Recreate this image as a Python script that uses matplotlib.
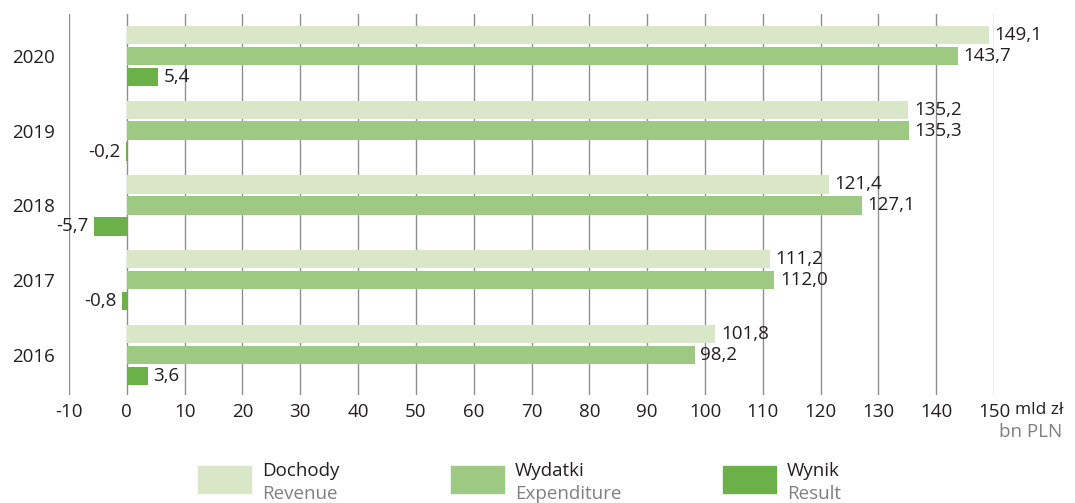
import matplotlib
matplotlib.use("Agg")
import matplotlib.pyplot as plt
import matplotlib.patches as mpatches
import numpy as np

years = ["2016", "2017", "2018", "2019", "2020"]
revenue = [101.8, 111.2, 121.4, 135.2, 149.1]
expenditure = [98.2, 112.0, 127.1, 135.3, 143.7]
result = [3.6, -0.8, -5.7, -0.2, 5.4]
xticks = list(range(-10, 151, 10))

series_names = [("Dochody", "Revenue"), ("Wydatki", "Expenditure"), ("Wynik", "Result")]
colours = ["#d9e7c8", "#9dc983", "#6cb04a"]
dark = "#231f20"
grey = "#808080"

plt.rcParams["font.family"] = ["Open Sans", "DejaVu Sans"]
fs = 13.5

fig = plt.figure(figsize=(10.75, 5.03), dpi=100)
W, H = 1075, 503
ax = fig.add_axes([69 / W, 1 - 395 / H, (994 - 69) / W, (395 - 14) / H])

y = np.arange(len(years))
step = 0.28
height = 0.245
series = [revenue, expenditure, result]
offsets = [step, 0, -step]

for vals, off, col in zip(series, offsets, colours):
    ax.barh(y + off, vals, height=height, color=col, zorder=3)
    for yi, v in zip(y, vals):
        lab = f"{v:.1f}".replace(".", ",")
        if v >= 0:
            ax.annotate(lab, (v, yi + off), xytext=(4, 0), textcoords="offset points",
                        ha="left", va="center", fontsize=fs, color=dark, clip_on=False)
        else:
            ax.annotate(lab, (v, yi + off), xytext=(-4, 0), textcoords="offset points",
                        ha="right", va="center", fontsize=fs, color=dark, clip_on=False)

ax.set_xlim(-10, 150)
ax.set_ylim(-0.535, 4.56)
ax.set_xticks(xticks)
ax.set_xticklabels([str(t) for t in xticks], fontsize=fs, color=dark)
ax.set_yticks(y)
ax.set_yticklabels(years, fontsize=fs, color=dark)
ax.tick_params(axis="both", length=0)
ax.tick_params(axis="x", pad=6)
ax.tick_params(axis="y", pad=10)
ax.grid(axis="x", color="#8f8f8f", linewidth=1.0, zorder=0)
for s in ax.spines.values():
    s.set_visible(False)

# unit label
fig.text(1015 / W, 1 - 410 / H, "mld zł", fontsize=12.5, color=dark, ha="left", va="center")
fig.text(1062 / W, 1 - 432 / H, "bn PLN", fontsize=fs, color=grey, ha="right", va="center")

# legend
for (pl, en), col, x0 in zip(series_names, colours, [198, 451, 723]):
    fig.patches.append(mpatches.Rectangle((x0 / W, 1 - 493 / H), 53 / W, 27 / H,
                                          transform=fig.transFigure, color=col))
    fig.text((x0 + 64) / W, 1 - 471 / H, pl, fontsize=fs, color=dark, ha="left", va="center")
    fig.text((x0 + 64) / W, 1 - 494 / H, en, fontsize=fs, color=grey, ha="left", va="center")

fig.savefig("out.png", dpi=100)
